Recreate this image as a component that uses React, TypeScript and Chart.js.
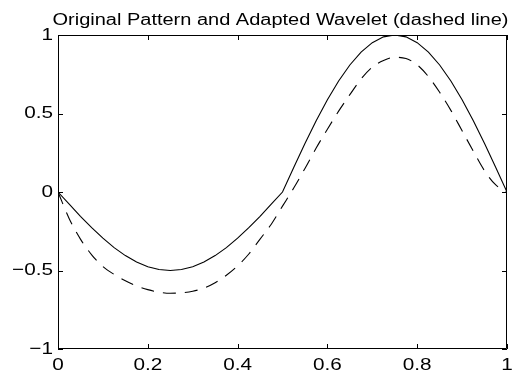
import React, { useEffect, useRef } from "react";
import { Chart, registerables } from "chart.js";

Chart.register(...registerables);

const TITLE = "Original Pattern and Adapted Wavelet (dashed line)";

const xValues = [
  0, 0.025, 0.05, 0.075, 0.1, 0.125, 0.15, 0.175, 0.2, 0.225,
  0.25, 0.275, 0.3, 0.325, 0.35, 0.375, 0.4, 0.425, 0.45, 0.475,
  0.5, 0.525, 0.55, 0.575, 0.6, 0.625, 0.65, 0.675, 0.7, 0.725,
  0.75, 0.775, 0.8, 0.825, 0.85, 0.875, 0.9, 0.925, 0.95, 0.975, 1,
];

const originalPattern = [
  0, -0.078, -0.155, -0.227, -0.294, -0.354, -0.405, -0.446, -0.476, -0.494,
  -0.5, -0.494, -0.476, -0.446, -0.405, -0.354, -0.294, -0.227, -0.155, -0.078,
  0, 0.156, 0.309, 0.454, 0.588, 0.707, 0.809, 0.891, 0.951, 0.988,
  1, 0.988, 0.951, 0.891, 0.809, 0.707, 0.588, 0.454, 0.309, 0.156, 0,
];

const adaptedWavelet = [
  0, -0.17, -0.3, -0.4, -0.475, -0.525, -0.565, -0.598, -0.622, -0.638,
  -0.645, -0.642, -0.632, -0.612, -0.578, -0.53, -0.47, -0.395, -0.3, -0.205,
  -0.09, 0.025, 0.15, 0.28, 0.4, 0.515, 0.62, 0.72, 0.795, 0.838,
  0.858, 0.85, 0.81, 0.735, 0.635, 0.52, 0.39, 0.26, 0.135, 0.045, 0,
];

const xTicks = [0, 0.2, 0.4, 0.6, 0.8, 1];
const xTickLabels = ["0", "0.2", "0.4", "0.6", "0.8", "1"];
const yTicks = [-1, -0.5, 0, 0.5, 1];
const yTickLabels = ["\u22121", "\u22120.5", "0", "0.5", "1"];

const FONT = "Liberation Sans, Arial, Helvetica, sans-serif";

const matlabPlugin = {
  id: "matlabAxes",
  afterDatasetsDraw(chart: any) {
    const { ctx, chartArea, scales } = chart;
    const xs = scales.x;
    const ys = scales.y;
    const { left, right, top, bottom } = chartArea;
    ctx.save();
    ctx.strokeStyle = "#000";
    ctx.lineWidth = 1;
    ctx.beginPath();
    ctx.rect(left + 0.5, top + 0.5, right - left - 1, bottom - top - 1);
    ctx.stroke();
    const tl = 5;
    ctx.beginPath();
    xTicks.forEach((v) => {
      const px = Math.round(xs.getPixelForValue(v)) + 0.5;
      ctx.moveTo(px, bottom);
      ctx.lineTo(px, bottom - tl);
      ctx.moveTo(px, top);
      ctx.lineTo(px, top + tl);
    });
    yTicks.forEach((v) => {
      const py = Math.round(ys.getPixelForValue(v)) + 0.5;
      ctx.moveTo(left, py);
      ctx.lineTo(left + tl, py);
      ctx.moveTo(right, py);
      ctx.lineTo(right - tl, py);
    });
    ctx.stroke();

    ctx.fillStyle = "#000";
    const sx = 1.22;
    ctx.font = `17px ${FONT}`;
    ctx.textAlign = "center";
    ctx.textBaseline = "alphabetic";
    xTicks.forEach((v, i) => {
      const px = xs.getPixelForValue(v);
      ctx.save();
      ctx.translate(px, bottom + 21);
      ctx.scale(sx, 1);
      ctx.fillText(xTickLabels[i], 0, 0);
      ctx.restore();
    });
    ctx.textAlign = "right";
    ctx.textBaseline = "middle";
    yTicks.forEach((v, i) => {
      const py = ys.getPixelForValue(v);
      ctx.save();
      ctx.translate(left - 5, py);
      ctx.scale(sx, 1);
      ctx.fillText(yTickLabels[i], 0, 0);
      ctx.restore();
    });
    ctx.font = `16px ${FONT}`;
    ctx.textAlign = "center";
    ctx.textBaseline = "alphabetic";
    const w = ctx.measureText(TITLE).width;
    const tsx = 456 / w;
    ctx.save();
    ctx.translate((left + right) / 2 - 2, top - 10);
    ctx.scale(tsx, 1);
    ctx.fillText(TITLE, 0, 0);
    ctx.restore();
    ctx.restore();
  },
};

export default function App() {
  const ref = useRef<HTMLCanvasElement | null>(null);
  useEffect(() => {
    document.body.style.margin = "0";
    if (!ref.current) return;
    const chart = new Chart(ref.current, {
      type: "line",
      data: {
        datasets: [
          {
            label: "Original Pattern",
            data: xValues.map((x, i) => ({ x, y: originalPattern[i] })),
            borderColor: "#000",
            borderWidth: 1.1,
            pointRadius: 0,
            tension: 0,
            fill: false,
          },
          {
            label: "Adapted Wavelet",
            data: xValues.map((x, i) => ({ x, y: adaptedWavelet[i] })),
            borderColor: "#000",
            borderWidth: 1.1,
            borderDash: [13, 9],
            pointRadius: 0,
            cubicInterpolationMode: "monotone",
            fill: false,
          },
        ],
      },
      options: {
        responsive: false,
        animation: false,
        events: [],
        layout: { padding: { top: 35, right: 11, left: 0, bottom: 0 } },
        plugins: {
          legend: { display: false },
          title: { display: false },
          tooltip: { enabled: false },
        },
        scales: {
          x: {
            type: "linear",
            min: 0,
            max: 1,
            grid: { display: false },
            border: { display: false },
            ticks: { display: false, stepSize: 0.2 },
            afterFit: (s: any) => {
              s.height = 25;
            },
          },
          y: {
            type: "linear",
            min: -1,
            max: 1,
            grid: { display: false },
            border: { display: false },
            ticks: { display: false, stepSize: 0.5 },
            afterFit: (s: any) => {
              s.width = 58;
            },
          },
        },
      },
      plugins: [matlabPlugin],
    });
    return () => chart.destroy();
  }, []);
  return (
    <div style={{ position: "absolute", left: 0, top: 0, width: 518, height: 374, background: "#fff" }}>
      <canvas ref={ref} width={518} height={374} style={{ display: "block" }} />
    </div>
  );
}
